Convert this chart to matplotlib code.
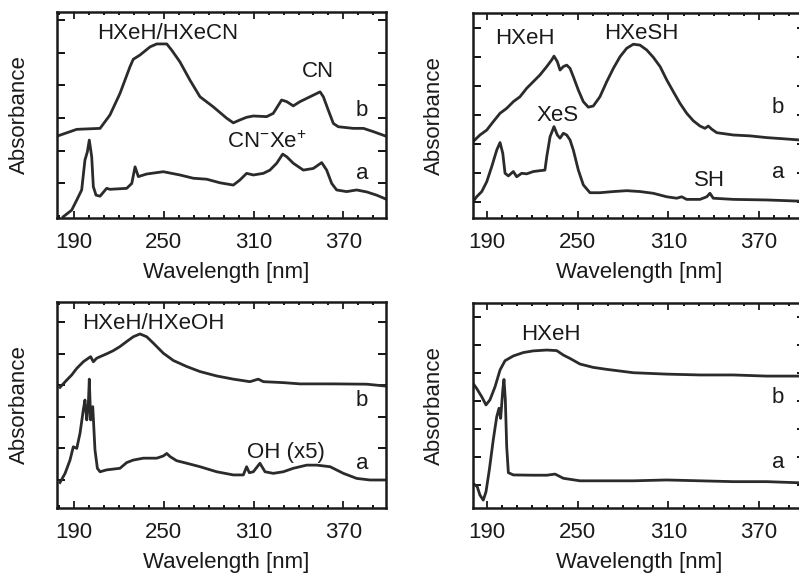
import matplotlib
matplotlib.use("Agg")
import matplotlib.pyplot as plt
from matplotlib.ticker import MultipleLocator, FixedLocator

plt.rcParams['font.family'] = ['Liberation Sans', 'DejaVu Sans']
plt.rcParams['mathtext.fontset'] = 'custom'
plt.rcParams['mathtext.rm'] = 'Liberation Sans'
plt.rcParams['mathtext.it'] = 'Liberation Sans:italic'
plt.rcParams['mathtext.bf'] = 'Liberation Sans:bold'

# ---------------- data (wavelength in nm, absorbance in arbitrary offset units) -------------
p1_b_nm = [178.5, 191.7, 207.3, 213.9, 220.6, 227.3, 229.5, 234.0, 240.7, 245.2, 251.9, 255.2,
           260.7, 267.4, 274.1, 283.0, 292.0, 296.4, 300.9, 305.3, 309.8, 318.7, 323.1, 328.7,
           332.1, 336.5, 341.0, 347.7, 354.4, 356.6, 359.9, 363.3, 366.6, 376.6, 383.4, 390.0, 398.5]
p1_b_abs = [2.44, 2.65, 2.68, 3.09, 3.75, 4.57, 4.80, 4.93, 5.18, 5.27, 5.27, 5.08,
            4.72, 4.16, 3.65, 3.34, 2.99, 2.85, 2.94, 3.02, 3.06, 3.04, 3.14, 3.55,
            3.50, 3.37, 3.50, 3.65, 3.80, 3.65, 3.24, 2.83, 2.73, 2.68, 2.68, 2.58, 2.44]

p1_a_nm = [182.7, 188.3, 191.7, 195.0, 197.2, 198.8, 200.1, 201.7, 202.8, 204.6, 207.3, 211.7,
           213.9, 225.1, 228.5, 230.7, 232.9, 238.5, 249.6, 260.7, 269.6, 278.6, 287.5, 296.4,
           300.9, 305.3, 309.8, 316.5, 320.9, 325.4, 329.4, 332.1, 336.5, 343.2, 349.9, 355.5,
           358.8, 362.2, 365.5, 372.2, 378.9, 385.6, 392.3, 398.5]
p1_a_abs = [-0.03, 0.17, 0.48, 0.79, 1.71, 1.96, 2.32, 1.81, 0.89, 0.63, 0.60, 0.84,
            0.81, 0.84, 0.99, 1.50, 1.20, 1.28, 1.35, 1.25, 1.15, 1.12, 1.01, 0.94,
            1.10, 1.30, 1.25, 1.30, 1.40, 1.61, 1.89, 1.81, 1.61, 1.40, 1.45, 1.63,
            1.40, 0.99, 0.79, 0.74, 0.79, 0.73, 0.63, 0.51]

p2_b_nm = [180.7, 185.3, 189.8, 194.1, 198.6, 203.0, 207.4, 211.8, 216.2, 220.6, 225.0, 229.5,
           232.8, 234.3, 236.5, 238.3, 240.5, 242.7, 244.9, 247.1, 250.4, 253.7, 257.0, 260.3,
           264.7, 269.2, 273.6, 278.0, 282.4, 286.8, 291.2, 295.7, 300.0, 304.5, 308.9, 313.3,
           317.7, 322.1, 326.5, 330.9, 334.2, 336.4, 338.7, 342.0, 353.0, 364.0, 375.1, 386.1,
           396.5, 400.4]
p2_b_abs = [3.08, 3.31, 3.48, 3.77, 4.06, 4.23, 4.46, 4.63, 4.92, 5.15, 5.38, 5.67,
            5.90, 6.03, 5.84, 5.55, 5.67, 5.72, 5.61, 5.32, 4.86, 4.46, 4.27, 4.31,
            4.63, 5.15, 5.61, 6.01, 6.30, 6.44, 6.41, 6.24, 5.99, 5.67, 5.21, 4.80,
            4.40, 4.06, 3.80, 3.62, 3.54, 3.62, 3.51, 3.39, 3.31, 3.28, 3.22, 3.18,
            3.14, 3.12]

p2_a_nm = [180.7, 183.1, 186.5, 189.8, 193.1, 196.4, 198.6, 200.4, 201.9, 204.1, 207.4, 209.6,
           212.9, 216.2, 220.6, 225.0, 228.3, 229.5, 231.7, 234.3, 236.5, 238.3, 240.5, 242.7,
           244.9, 247.1, 250.4, 253.7, 258.1, 264.7, 273.6, 282.4, 291.2, 300.0, 308.9, 315.5,
           318.8, 322.1, 330.9, 335.4, 337.5, 339.7, 353.0, 375.1, 396.5, 400.4]
p2_a_abs = [1.01, 1.18, 1.36, 1.70, 2.22, 2.79, 3.05, 2.68, 1.99, 1.90, 2.05, 1.87,
            1.99, 1.97, 2.05, 2.08, 2.10, 2.56, 3.25, 3.60, 3.31, 3.20, 3.37, 3.31,
            3.14, 2.79, 2.10, 1.59, 1.32, 1.32, 1.36, 1.39, 1.36, 1.30, 1.18, 1.13,
            1.18, 1.09, 1.09, 1.18, 1.30, 1.13, 1.09, 1.07, 1.03, 1.03]

p3_b_nm = [180.5, 185.0, 188.3, 191.7, 196.1, 199.4, 201.0, 202.8, 205.0, 207.3, 211.7, 216.1,
           220.6, 225.1, 229.5, 234.0, 238.5, 242.9, 249.6, 256.3, 265.2, 274.1, 285.3, 296.4,
           307.5, 313.1, 316.5, 329.8, 341.0, 363.3, 385.6, 398.5]
p3_b_abs = [3.93, 4.16, 4.32, 4.53, 4.74, 4.85, 4.90, 4.74, 4.85, 4.90, 4.99, 5.09,
            5.22, 5.38, 5.53, 5.62, 5.53, 5.33, 5.01, 4.78, 4.59, 4.43, 4.29, 4.19,
            4.11, 4.19, 4.11, 4.08, 4.04, 4.04, 4.03, 3.97]

p3_a_nm = [180.5, 183.9, 187.2, 189.4, 191.7, 193.9, 196.1, 197.2, 198.4, 199.4, 200.1, 201.0,
           202.4, 203.9, 205.5, 207.3, 211.7, 220.6, 225.1, 229.5, 236.2, 245.2, 249.6, 251.9,
           254.1, 258.5, 265.2, 274.1, 285.3, 296.4, 303.1, 305.3, 307.1, 309.8, 314.2, 317.6,
           323.1, 329.8, 336.5, 345.5, 352.2, 361.1, 370.0, 378.9, 387.8, 398.5]
p3_a_abs = [0.92, 1.21, 1.63, 2.05, 2.00, 2.48, 3.22, 3.53, 2.90, 3.32, 4.19, 2.90,
            3.32, 1.95, 1.37, 1.26, 1.32, 1.37, 1.55, 1.63, 1.69, 1.69, 1.76, 1.84,
            1.74, 1.61, 1.53, 1.42, 1.26, 1.16, 1.16, 1.42, 1.23, 1.26, 1.53, 1.26,
            1.21, 1.26, 1.37, 1.47, 1.47, 1.42, 1.21, 1.05, 1.00, 1.00]

p4_b_nm = [180.7, 183.1, 186.5, 189.3, 191.9, 195.3, 198.6, 201.9, 207.4, 214.0, 220.6, 229.5,
           236.1, 240.5, 244.9, 251.5, 260.3, 269.2, 286.8, 308.9, 330.9, 353.0, 375.1, 396.5,
           400.4]
p4_b_abs = [4.63, 4.45, 4.15, 3.86, 4.04, 4.51, 5.11, 5.44, 5.61, 5.73, 5.79, 5.82,
            5.80, 5.64, 5.52, 5.32, 5.20, 5.13, 5.01, 4.96, 4.93, 4.93, 4.89, 4.89,
            4.89]

p4_a_nm = [180.7, 183.5, 185.3, 187.5, 189.3, 191.5, 194.1, 196.4, 197.9, 199.0, 200.4, 201.2,
           202.1, 203.0, 204.1, 207.4, 220.6, 229.5, 235.0, 240.5, 251.5, 264.7, 286.8, 308.9,
           330.9, 353.0, 375.1, 396.5, 400.4]
p4_a_abs = [1.06, 0.94, 0.64, 0.46, 0.76, 1.54, 2.61, 3.44, 3.74, 3.38, 4.39, 4.77,
            4.04, 2.37, 1.44, 1.36, 1.35, 1.35, 1.39, 1.24, 1.15, 1.15, 1.15, 1.18,
            1.15, 1.12, 1.12, 1.08, 1.08]

x_major_ticks = [190, 250, 310, 370]
x_tick_labels = ['190', '250', '310', '370']

# ---------------- figure ----------------
W, H = 799, 578
fig = plt.figure(figsize=(W / 100, H / 100), dpi=100)

def frac(left, top, right, bottom):
    return [left / W, 1 - bottom / H, (right - left) / W, (bottom - top) / H]

LINE_C = '#2b2b2b'
FS = 16

panels = [
    dict(rect=frac(57, 12, 386, 218), xlim=(178.5, 398.5), ylim=(-0.07, 6.25), yt=range(1, 7),
         curves=[(p1_b_nm, p1_b_abs), (p1_a_nm, p1_a_abs)],
         texts=[("HXeH/HXeCN", 0.337, 0.895), ("CN", 0.793, 0.709), ("b", 0.927, 0.524),
                ("CN$^{-}$Xe$^{+}$", 0.638, 0.370), ("a", 0.927, 0.218)],
         xlab_x=0.514),
    dict(rect=frac(473, 13, 805, 218), xlim=(180.7, 400.4), ylim=(0.448, 7.517), yt=range(1, 8),
         curves=[(p2_b_nm, p2_b_abs), (p2_a_nm, p2_a_abs)],
         texts=[("HXeH", 0.157, 0.878), ("HXeSH", 0.506, 0.902), ("XeS", 0.256, 0.502),
                ("SH", 0.711, 0.185), ("b", 0.919, 0.537), ("a", 0.919, 0.220)],
         xlab_x=0.50),
    dict(rect=frac(57, 302, 386, 508), xlim=(178.5, 398.5), ylim=(0.114, 6.63), yt=range(1, 7),
         curves=[(p3_b_nm, p3_b_abs), (p3_a_nm, p3_a_abs)],
         texts=[("HXeH/HXeOH", 0.292, 0.895), ("b", 0.927, 0.524), ("OH (x5)", 0.696, 0.267),
                ("a", 0.927, 0.218)],
         xlab_x=0.514),
    dict(rect=frac(473, 303, 805, 508), xlim=(180.7, 400.4), ylim=(0.179, 7.5), yt=range(1, 8),
         curves=[(p4_b_nm, p4_b_abs), (p4_a_nm, p4_a_abs)],
         texts=[("HXeH", 0.235, 0.844), ("b", 0.919, 0.537), ("a", 0.919, 0.220)],
         xlab_x=0.50),
]

for p in panels:
    ax = fig.add_axes(p['rect'])
    for xs, ys in p['curves']:
        ax.plot(xs, ys, color=LINE_C, lw=2.0, solid_joinstyle='round')
    ax.set_xlim(*p['xlim'])
    ax.set_ylim(*p['ylim'])
    ax.xaxis.set_major_locator(FixedLocator(x_major_ticks))
    ax.set_xticklabels(x_tick_labels)
    ax.xaxis.set_minor_locator(MultipleLocator(10))
    ax.yaxis.set_major_locator(FixedLocator(list(p['yt'])))
    ax.set_yticklabels([])
    ax.tick_params(axis='x', which='major', direction='in', length=5, width=1.3,
                   top=True, bottom=True, labelsize=FS, pad=10, colors='#1a1a1a')
    ax.tick_params(axis='x', which='minor', direction='in', length=2.5, width=1.3,
                   top=True, bottom=True)
    ax.tick_params(axis='y', which='major', direction='in', length=5.5, width=1.3,
                   left=True, right=True)
    for s in ax.spines.values():
        s.set_linewidth(1.8)
        s.set_color('#1a1a1a')
    ax.set_xlabel("Wavelength [nm]", fontsize=FS, color='#1a1a1a')
    ax.xaxis.label.set_va('center')
    ax.xaxis.set_label_coords(p['xlab_x'], -0.265)
    ax.set_ylabel("Absorbance", fontsize=FS, color='#1a1a1a')
    ax.yaxis.label.set_va('center')
    ax.yaxis.set_label_coords(-0.115, 0.5)
    for t, x, y in p['texts']:
        ax.text(x, y, t, transform=ax.transAxes, ha='center', va='center',
                fontsize=FS, color='#1a1a1a')

fig.savefig("out.png", dpi=100)
